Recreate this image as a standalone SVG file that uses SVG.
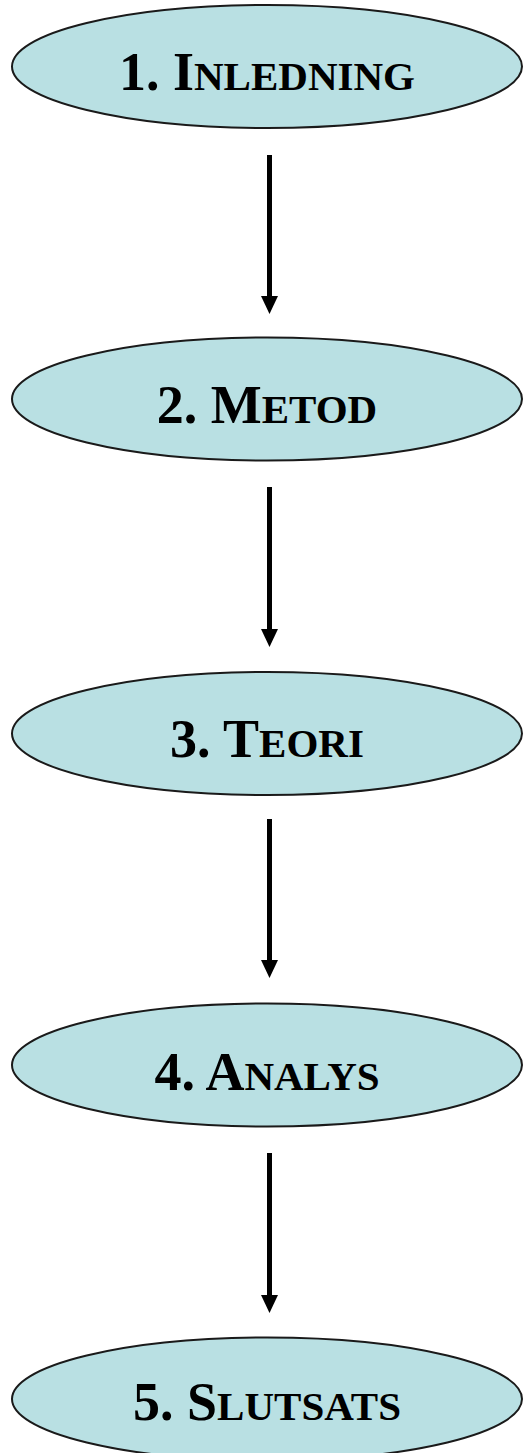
<svg xmlns="http://www.w3.org/2000/svg" width="525" height="1453" viewBox="0 0 525 1453">
  <style>
    .node ellipse { fill: #B9E0E3; stroke: #1a1a1a; stroke-width: 2; }
    .node text { font-family: "Liberation Serif", "Times New Roman", serif; font-weight: bold; font-size: 54px; fill: #000; text-anchor: middle; }
    .node .sc { font-size: 41px; }
    .conn line { stroke: #000; stroke-width: 5; }
  </style>
  <defs>
    <marker id="ah" markerUnits="userSpaceOnUse" viewBox="0 -9 18 18" refX="0" refY="0" markerWidth="18" markerHeight="18" orient="auto">
      <path d="M0,-8.5 L18,0 L0,8.5 Z" fill="#000"/>
    </marker>
  </defs>
  <rect width="525" height="1453" fill="#fff"/>
  <g id="connectors" class="conn">
    <line x1="269.5" y1="155" x2="269.5" y2="296" marker-end="url(#ah)"/>
    <line x1="269.5" y1="487" x2="269.5" y2="629" marker-end="url(#ah)"/>
    <line x1="269.5" y1="819" x2="269.5" y2="960" marker-end="url(#ah)"/>
    <line x1="269.5" y1="1153" x2="269.5" y2="1295" marker-end="url(#ah)"/>
  </g>
  <g id="node1" class="node">
    <ellipse cx="267" cy="66.5" rx="255" ry="61.5"/>
    <text x="267" y="90">1. I<tspan class="sc">NLEDNING</tspan></text>
  </g>
  <g id="node2" class="node">
    <ellipse cx="267" cy="399" rx="255" ry="61.5"/>
    <text x="267" y="423">2. M<tspan class="sc">ETOD</tspan></text>
  </g>
  <g id="node3" class="node">
    <ellipse cx="267" cy="733.5" rx="255" ry="61.5"/>
    <text x="267" y="757">3. T<tspan class="sc">EORI</tspan></text>
  </g>
  <g id="node4" class="node">
    <ellipse cx="267" cy="1065" rx="255" ry="61.5"/>
    <text x="267" y="1090">4. A<tspan class="sc">NALYS</tspan></text>
  </g>
  <g id="node5" class="node">
    <ellipse cx="267" cy="1399" rx="255" ry="61.5"/>
    <text x="267" y="1420">5. S<tspan class="sc">LUTSATS</tspan></text>
  </g>
</svg>
